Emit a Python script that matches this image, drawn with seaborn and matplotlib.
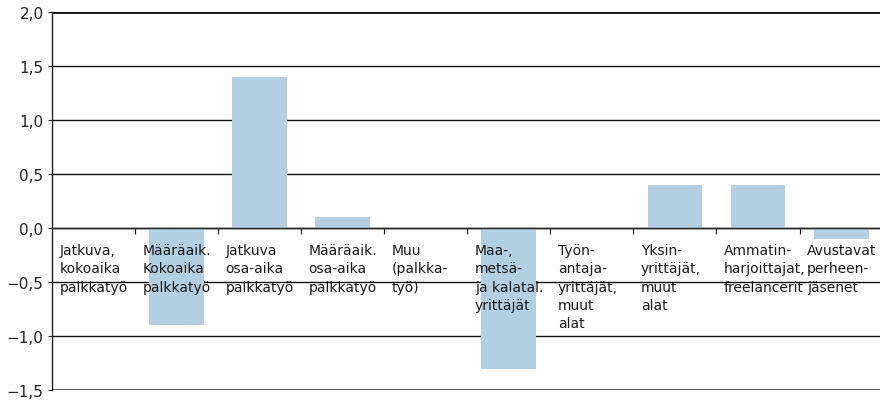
import matplotlib
matplotlib.use("Agg")
import matplotlib.pyplot as plt
import pandas as pd
import seaborn as sns

# Data
categories = [
    "Jatkuva,\nkokoaika\npalkkatyö",
    "Määräaik.\nKokoaika\npalkkatyö",
    "Jatkuva\nosa-aika\npalkkatyö",
    "Määräaik.\nosa-aika\npalkkatyö",
    "Muu\n(palkka-\ntyö)",
    "Maa-,\nmetsä-\nja kalatal.\nyrittäjät",
    "Työn-\nantaja-\nyrittäjät,\nmuut\nalat",
    "Yksin-\nyrittäjät,\nmuut\nalat",
    "Ammatin-\nharjoittajat,\nfreelancerit",
    "Avustavat\nperheen-\njäsenet",
]
values = [0.0, -0.9, 1.4, 0.1, 0.0, -1.3, 0.0, 0.4, 0.4, -0.1]
yticks = [-1.5, -1.0, -0.5, 0.0, 0.5, 1.0, 1.5, 2.0]

df = pd.DataFrame({"kategoria": categories, "muutos": values})

sns.set_style("white")
plt.rcParams["font.family"] = ["Liberation Sans Narrow", "DejaVu Sans"]

fig = plt.figure(figsize=(8.8, 4.02), dpi=100)
ax = fig.add_axes([0.059, 0.027, 0.944, 0.941])

sns.barplot(data=df, x="kategoria", y="muutos", color="#b4cfe2", saturation=1,
            width=0.66, ax=ax)
for p in ax.patches:
    p.set_edgecolor("none")

ax.set_xlim(-0.5, len(categories) - 0.5)
ax.set_ylim(-1.5, 2.0)
ax.set_axisbelow(True)
ax.yaxis.grid(True, color="#111111", linewidth=1.0)
ax.set_yticks(yticks)
ax.set_yticklabels([f"{v:.1f}".replace(".", ",").replace("-", "\u2212") for v in yticks],
                   fontsize=11, color="#222222")
ax.tick_params(axis="y", length=3, width=0.8, color="#222222", pad=3, left=True)

# category boundary ticks on the zero line
ax.spines["bottom"].set_position(("data", 0))
ax.spines["bottom"].set_color("#222222")
ax.spines["bottom"].set_linewidth(1.0)
ax.set_xticks([i + 0.5 for i in range(len(categories) - 1)])
ax.set_xticklabels([])
ax.tick_params(axis="x", length=4, width=0.8, color="#222222", direction="out", bottom=True)
ax.set_xlabel("")
ax.set_ylabel("")

ax.spines["top"].set_visible(False)
ax.spines["right"].set_visible(False)
ax.spines["left"].set_color("#222222")
ax.spines["left"].set_linewidth(1.0)
ax.axhline(2.0, color="#111111", linewidth=2.0, zorder=0.6)
ax.axhline(-1.5, color="#555555", linewidth=2.0, zorder=0.6)

for i, lab in enumerate(categories):
    ax.text(i - 0.41, -0.14, lab, ha="left", va="top", fontsize=10,
            color="#1a1a1a", linespacing=1.38, zorder=5)

fig.savefig("out.png", dpi=100)
